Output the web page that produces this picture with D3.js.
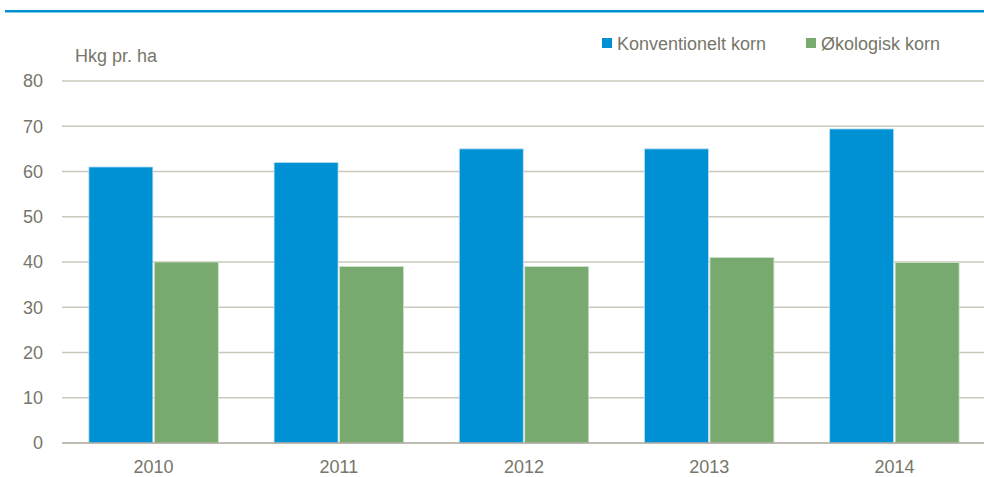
<!DOCTYPE html>
<html>
<head>
<meta charset="utf-8">
<script src="https://cdn.jsdelivr.net/npm/d3@7"></script>
<style>
  body { margin: 0; background: #fff; }
  svg text { font-family: "Liberation Sans Narrow", "Arial Narrow", "Liberation Sans", Arial, sans-serif; fill: #77766a; }
</style>
</head>
<body>
<div id="vis-container"></div>
<script>
// Data
var years = ["2010", "2011", "2012", "2013", "2014"];
var seriesNames = ["Konventionelt korn", "Økologisk korn"];
var konventionelt = [61, 62, 65, 65, 69.4];
var okologisk = [40, 39, 39, 41, 39.9];
var yTicks = [0, 10, 20, 30, 40, 50, 60, 70, 80];
var colors = ["#0090d4", "#78aa6f"];

var width = 984;
var height = 477;

var svg = d3.select("#vis-container").append("svg")
    .attr("width", width)
    .attr("height", height);

// top rule
svg.append("rect")
    .attr("x", 5).attr("y", 10)
    .attr("width", width - 5).attr("height", 2.5)
    .attr("fill", "#0090d4");

// Scales
var x0 = d3.scaleBand().domain(years).range([61, 987])
    .paddingInner(0.293).paddingOuter(0.1465);
var x1 = d3.scaleBand().domain(seriesNames).range([0, x0.bandwidth()]);
var y = d3.scaleLinear().domain([0, 80]).range([443, 81]);

// gridlines
svg.append("g").selectAll("line")
    .data(yTicks.filter(function (d) { return d > 0; }))
    .join("line")
    .attr("x1", 62).attr("x2", width)
    .attr("y1", function (d) { return y(d); })
    .attr("y2", function (d) { return y(d); })
    .attr("stroke", "#cac8bc")
    .attr("stroke-width", 1.5);

// y tick labels
svg.append("g").selectAll("text")
    .data(yTicks)
    .join("text")
    .attr("x", 43)
    .attr("y", function (d) { return y(d); })
    .attr("dy", "0.35em")
    .attr("text-anchor", "end")
    .attr("font-size", 18)
    .text(function (d) { return d; });

// bars
var rows = years.map(function (yr, i) {
    return { year: yr, values: [konventionelt[i], okologisk[i]] };
});
var groups = svg.append("g").selectAll("g")
    .data(rows)
    .join("g")
    .attr("transform", function (d) { return "translate(" + x0(d.year) + ",0)"; });
groups.selectAll("rect")
    .data(function (d) { return d.values.map(function (v, j) { return { name: seriesNames[j], value: v, j: j }; }); })
    .join("rect")
    .attr("x", function (d) { return x1(d.name) + 0.75; })
    .attr("width", x1.bandwidth() - 1.5)
    .attr("y", function (d) { return y(d.value); })
    .attr("height", function (d) { return y(0) - y(d.value); })
    .attr("fill", function (d) { return colors[d.j]; })
    .attr("stroke", function (d) { return d.j === 0 ? "#b9dff2" : "#cfe3cb"; })
    .attr("stroke-width", 0.8);

// x axis line
svg.append("line")
    .attr("x1", 62).attr("x2", width)
    .attr("y1", y(0)).attr("y2", y(0))
    .attr("stroke", "#a8a69a")
    .attr("stroke-width", 1.5);

// x labels
svg.append("g").selectAll("text")
    .data(years)
    .join("text")
    .attr("x", function (d) { return x0(d) + x0.bandwidth() / 2; })
    .attr("y", 473)
    .attr("text-anchor", "middle")
    .attr("font-size", 18)
    .text(function (d) { return d; });

// unit label
svg.append("text")
    .attr("x", 75).attr("y", 62)
    .attr("font-size", 18)
    .text("Hkg pr. ha");

// legend
var legendX = [602, 806];
var legend = svg.append("g").selectAll("g")
    .data(seriesNames)
    .join("g")
    .attr("transform", function (d, i) { return "translate(" + legendX[i] + ",0)"; });
legend.append("rect")
    .attr("x", 0).attr("y", 38)
    .attr("width", 10).attr("height", 10)
    .attr("fill", function (d, i) { return colors[i]; });
legend.append("text")
    .attr("x", 15).attr("y", 50)
    .attr("font-size", 18)
    .text(function (d) { return d; });
</script>
</body>
</html>
